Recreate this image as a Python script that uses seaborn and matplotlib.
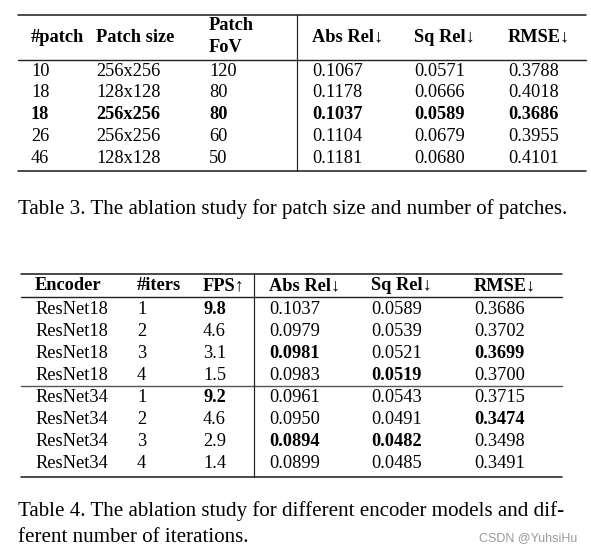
import matplotlib
matplotlib.use("Agg")
import matplotlib.pyplot as plt
import seaborn as sns

sns.set_theme(style="white")
plt.rcParams['font.family'] = ['Liberation Serif', 'DejaVu Serif']

# ---- Table 3 data ----
t3_headers = ["#patch", "Patch size", "Patch\nFoV", "Abs Rel\u2193", "Sq Rel\u2193", "RMSE\u2193"]
t3_patch = ["10", "18", "18", "26", "46"]
t3_size = ["256x256", "128x128", "256x256", "256x256", "128x128"]
t3_fov = ["120", "80", "80", "60", "50"]
t3_absrel = ["0.1067", "0.1178", "0.1037", "0.1104", "0.1181"]
t3_sqrel = ["0.0571", "0.0666", "0.0589", "0.0679", "0.0680"]
t3_rmse = ["0.3788", "0.4018", "0.3686", "0.3955", "0.4101"]
t3_bold_row = 2
t3_caption = "Table 3. The ablation study for patch size and number of patches."

# ---- Table 4 data ----
t4_headers = ["Encoder", "#iters", "FPS\u2191", "Abs Rel\u2193", "Sq Rel\u2193", "RMSE\u2193"]
t4_encoder = ["ResNet18"] * 4 + ["ResNet34"] * 4
t4_iters = ["1", "2", "3", "4", "1", "2", "3", "4"]
t4_fps = ["9.8", "4.6", "3.1", "1.5", "9.2", "4.6", "2.9", "1.4"]
t4_absrel = ["0.1037", "0.0979", "0.0981", "0.0983", "0.0961", "0.0950", "0.0894", "0.0899"]
t4_sqrel = ["0.0589", "0.0539", "0.0521", "0.0519", "0.0543", "0.0491", "0.0482", "0.0485"]
t4_rmse = ["0.3686", "0.3702", "0.3699", "0.3700", "0.3715", "0.3474", "0.3498", "0.3491"]
# bold cells: (row, col)
t4_bold = {(0, 2), (4, 2), (2, 3), (6, 3), (3, 4), (6, 4), (2, 5), (5, 5)}
t4_caption = ["Table 4. The ablation study for different encoder models and dif-",
              "ferent number of iterations."]
watermark = "CSDN @YuhsiHu"

fig = plt.figure(figsize=(5.91, 5.53), dpi=100)
ax = fig.add_axes([0, 0, 1, 1])
ax.set_xlim(0, 591)
ax.set_ylim(553, 0)
ax.axis("off")
fig.patch.set_facecolor("white")

FS = 13.2
CAP_FS = 15.1
px = 0.72  # points per pixel
dark = "#222222"
dy = 1.0

# ---------- Table 3 ----------
c3 = [31, 96, 209, 312, 414, 508]
ax.plot([18, 586], [15, 15], color=dark, lw=1.6 * px)
ax.plot([18, 586], [60, 60], color=dark, lw=1.4 * px)
ax.plot([18, 586], [171, 171], color=dark, lw=1.6 * px)
ax.plot([297, 297], [15, 171], color=dark, lw=1.2 * px)
for i, h in enumerate(t3_headers):
    if "\n" in h:
        a, b = h.split("\n")
        ax.text(c3[i], 25 + dy, a, fontsize=FS, fontweight="bold", va="center", ha="left", color="black")
        ax.text(c3[i], 47 + dy, b, fontsize=FS, fontweight="bold", va="center", ha="left", color="black")
    else:
        ax.text(c3[i], 36 + dy, h, fontsize=FS, fontweight="bold", va="center", ha="left", color="black")
cols3 = [t3_patch, t3_size, t3_fov, t3_absrel, t3_sqrel, t3_rmse]
for r in range(len(t3_patch)):
    y = 70 + dy + r * 21.8
    for ci, col in enumerate(cols3):
        ax.text(c3[ci], y, col[r], fontsize=FS, va="center", ha="left", color="black",
                fontweight="bold" if r == t3_bold_row else "normal")
ax.text(18, 209, t3_caption, fontsize=CAP_FS, va="center", ha="left", color="black")

# ---------- Table 4 ----------
c4 = [35, 137, 203, 269, 371, 474]
ax.plot([21, 562], [274, 274], color=dark, lw=1.6 * px)
ax.plot([21, 562], [297, 297], color=dark, lw=1.4 * px)
ax.plot([21, 562], [386, 386], color="#555555", lw=1.4 * px)
ax.plot([21, 562], [477, 477], color=dark, lw=1.6 * px)
ax.plot([254, 254], [274, 477], color=dark, lw=1.2 * px)
for i, h in enumerate(t4_headers):
    ax.text(c4[i], 285 + dy, h, fontsize=FS, fontweight="bold", va="center", ha="left", color="black")
cols4 = [t4_encoder, t4_iters, t4_fps, t4_absrel, t4_sqrel, t4_rmse]
for r in range(len(t4_encoder)):
    y = 308 + dy + r * 22 + (1 if r >= 4 else 0)
    for ci, col in enumerate(cols4):
        ax.text(c4[ci], y, col[r], fontsize=FS, va="center", ha="left", color="black",
                fontweight="bold" if (r, ci) in t4_bold else "normal")
ax.text(18, 511, t4_caption[0], fontsize=CAP_FS, va="center", ha="left", color="black")
ax.text(18, 537.5, t4_caption[1], fontsize=CAP_FS, va="center", ha="left", color="black")
ax.text(577, 538, watermark, fontsize=9, va="center", ha="right", color="#9a9a9a",
        family=["Liberation Sans", "DejaVu Sans"])

fig.savefig("out.png", dpi=100, facecolor="white")
